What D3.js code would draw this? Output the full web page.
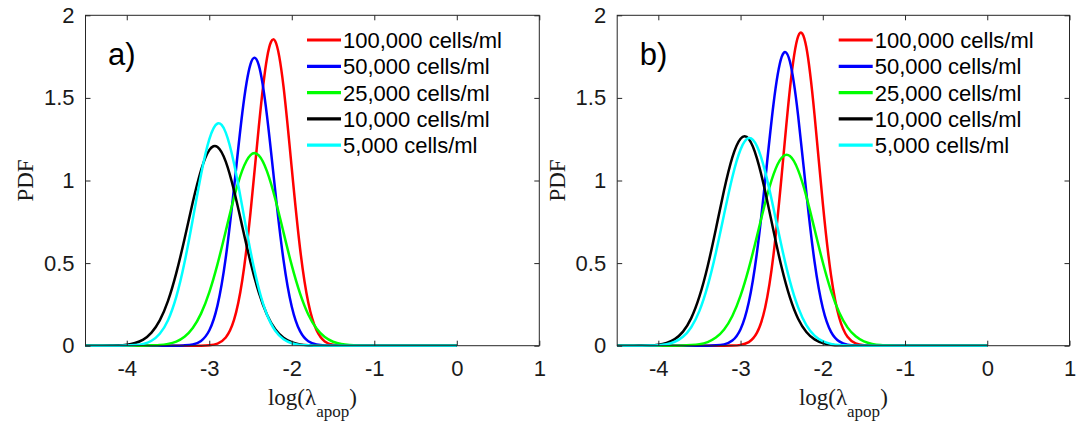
<!DOCTYPE html>
<html>
<head>
<meta charset="utf-8">
<script src="https://cdn.jsdelivr.net/npm/d3@7"></script>
<style>
  html, body { margin: 0; padding: 0; background: #fff; }
  svg { display: block; }
</style>
</head>
<body>
<svg id="chart" width="1088" height="427"></svg>
<script>
// Sample grid of log(lambda_apop), shared by every curve
const logLambda = [
  -4.5, -4.4, -4.3, -4.2, -4.1, -4.0, -3.9, -3.8, -3.7, -3.6,
  -3.5, -3.4, -3.3, -3.2, -3.1, -3.0, -2.9, -2.8, -2.7, -2.6,
  -2.5, -2.4, -2.3, -2.2, -2.1, -2.0, -1.9, -1.8, -1.7, -1.6,
  -1.5, -1.4, -1.3, -1.2, -1.1, -1.0, -0.9, -0.8, -0.7, -0.6,
  -0.5, -0.4, -0.3, -0.2, -0.1, 0.0
];

const seriesLabels = ["100,000 cells/ml", "50,000 cells/ml", "25,000 cells/ml", "10,000 cells/ml", "5,000 cells/ml"];
const seriesColors = ["#ff0000", "#0000ff", "#00ff00", "#000000", "#00ffff"];
const panelLabels = ["a)", "b)"];

// Panel a) PDF values
const pdfA_100k = [
  0, 0, 0, 0, 0, 0, 0, 0, 0, 0,
  0, 0, 0, 0, 0, 0.003, 0.013, 0.050, 0.156, 0.396,
  0.807, 1.323, 1.742, 1.843, 1.568, 1.073, 0.590, 0.261, 0.093, 0.026,
  0.006, 0.001, 0, 0, 0, 0, 0, 0, 0, 0,
  0, 0, 0, 0, 0, 0
];
const pdfA_50k = [
  0, 0, 0, 0, 0, 0, 0, 0, 0, 0,
  0, 0, 0.002, 0.007, 0.029, 0.092, 0.244, 0.533, 0.955, 1.407,
  1.704, 1.698, 1.390, 0.936, 0.518, 0.236, 0.088, 0.027, 0.007, 0.001,
  0, 0, 0, 0, 0, 0, 0, 0, 0, 0,
  0, 0, 0, 0, 0, 0
];
const pdfA_25k = [
  0, 0, 0, 0, 0, 0, 0, 0, 0.002, 0.004,
  0.011, 0.025, 0.054, 0.107, 0.194, 0.323, 0.494, 0.694, 0.896, 1.061,
  1.154, 1.152, 1.055, 0.888, 0.686, 0.486, 0.317, 0.189, 0.104, 0.052,
  0.024, 0.010, 0.004, 0.001, 0, 0, 0, 0, 0, 0,
  0, 0, 0, 0, 0, 0
];
const pdfA_10k = [
  0, 0, 0, 0.001, 0.002, 0.006, 0.016, 0.037, 0.079, 0.153,
  0.271, 0.439, 0.646, 0.868, 1.062, 1.184, 1.203, 1.114, 0.939, 0.722,
  0.506, 0.323, 0.188, 0.099, 0.048, 0.021, 0.008, 0.003, 0.001, 0,
  0, 0, 0, 0, 0, 0, 0, 0, 0, 0,
  0, 0, 0, 0, 0, 0
];
const pdfA_5k = [
  0, 0, 0, 0, 0, 0.001, 0.004, 0.011, 0.030, 0.072,
  0.154, 0.295, 0.503, 0.764, 1.035, 1.249, 1.345, 1.290, 1.103, 0.841,
  0.572, 0.346, 0.187, 0.090, 0.039, 0.015, 0.005, 0.002, 0, 0,
  0, 0, 0, 0, 0, 0, 0, 0, 0, 0,
  0, 0, 0, 0, 0, 0
];

// Panel b) PDF values
const pdfB_100k = [
  0, 0, 0, 0, 0, 0, 0, 0, 0, 0,
  0, 0, 0, 0, 0.001, 0.005, 0.022, 0.079, 0.233, 0.548,
  1.031, 1.553, 1.872, 1.806, 1.395, 0.863, 0.427, 0.169, 0.054, 0.014,
  0.003, 0, 0, 0, 0, 0, 0, 0, 0, 0,
  0, 0, 0, 0, 0, 0
];
const pdfB_50k = [
  0, 0, 0, 0, 0, 0, 0, 0, 0, 0,
  0, 0, 0.002, 0.008, 0.031, 0.100, 0.263, 0.566, 1.002, 1.460,
  1.748, 1.720, 1.393, 0.927, 0.507, 0.228, 0.084, 0.026, 0.006, 0.001,
  0, 0, 0, 0, 0, 0, 0, 0, 0, 0,
  0, 0, 0, 0, 0, 0
];
const pdfB_25k = [
  0, 0, 0, 0, 0, 0, 0, 0, 0.001, 0.004,
  0.009, 0.022, 0.049, 0.098, 0.180, 0.303, 0.468, 0.664, 0.866, 1.036,
  1.138, 1.148, 1.063, 0.904, 0.705, 0.505, 0.332, 0.201, 0.111, 0.057,
  0.026, 0.011, 0.004, 0.002, 0, 0, 0, 0, 0, 0,
  0, 0, 0, 0, 0, 0
];
const pdfB_10k = [
  0, 0, 0, 0.001, 0.002, 0.006, 0.017, 0.040, 0.085, 0.167,
  0.298, 0.481, 0.707, 0.942, 1.140, 1.253, 1.251, 1.133, 0.933, 0.697,
  0.473, 0.292, 0.163, 0.083, 0.038, 0.016, 0.006, 0.002, 0.001, 0,
  0, 0, 0, 0, 0, 0, 0, 0, 0, 0,
  0, 0, 0, 0, 0, 0
];
const pdfB_5k = [
  0, 0, 0, 0, 0.001, 0.003, 0.009, 0.024, 0.054, 0.112,
  0.211, 0.362, 0.563, 0.795, 1.020, 1.188, 1.257, 1.207, 1.052, 0.833,
  0.599, 0.391, 0.232, 0.125, 0.061, 0.027, 0.011, 0.004, 0.001, 0,
  0, 0, 0, 0, 0, 0, 0, 0, 0, 0,
  0, 0, 0, 0, 0, 0
];

const xDomain = [-4.5, 1];
const yDomain = [0, 2];
const xTicks = [-4, -3, -2, -1, 0, 1];
const xTickLabels = ["-4", "-3", "-2", "-1", "0", "1"];
const yTicks = [0, 0.5, 1, 1.5, 2];
const yTickLabels = ["0", "0.5", "1", "1.5", "2"];

// Layout
const plotTop = 15.3, plotBottom = 345.7;
const panelSpecs = [
  { left: 85.5, right: 539.3, series: [pdfA_100k, pdfA_50k, pdfA_25k, pdfA_10k, pdfA_5k] },
  { left: 617.2, right: 1069.5, series: [pdfB_100k, pdfB_50k, pdfB_25k, pdfB_10k, pdfB_5k] }
];

const SANS = "'Liberation Sans', Arial, Helvetica, sans-serif";
const SERIF = "'Liberation Serif', 'Times New Roman', Times, serif";
const AXIS_COLOR = "#262626";

const svg = d3.select("#chart");

panelSpecs.forEach((spec, p) => {
  const x = d3.scaleLinear().domain(xDomain).range([spec.left, spec.right]);
  const y = d3.scaleLinear().domain(yDomain).range([plotBottom, plotTop]);
  const g = svg.append("g");

  // Curves (drawn in legend order, so 5,000 cells/ml ends on top)
  const line = d3.line()
    .x((d, i) => x(logLambda[i]))
    .y(d => y(d))
    .curve(d3.curveNatural);

  spec.series.forEach((vals, k) => {
    g.append("path")
      .datum(vals)
      .attr("d", line)
      .attr("fill", "none")
      .attr("stroke", seriesColors[k])
      .attr("stroke-width", 2.5)
      .attr("stroke-linejoin", "round");
  });

  // Axes: ticks point inward on all four sides
  const styleAxis = sel => {
    sel.selectAll(".domain").remove();
    sel.selectAll(".tick line").attr("stroke", AXIS_COLOR).attr("stroke-width", 1);
    sel.selectAll(".tick text")
      .attr("fill", "#1a1a1a")
      .style("font-family", SANS)
      .style("font-size", "22px");
  };

  g.append("g")
    .attr("transform", `translate(0,${plotBottom})`)
    .call(d3.axisBottom(x).tickValues(xTicks).tickFormat((d, i) => xTickLabels[i]).tickSizeInner(-5).tickSizeOuter(0).tickPadding(15))
    .call(styleAxis);
  g.append("g")
    .attr("transform", `translate(0,${plotTop})`)
    .call(d3.axisTop(x).tickValues(xTicks).tickFormat("").tickSizeInner(-5).tickSizeOuter(0))
    .call(styleAxis);
  g.append("g")
    .attr("transform", `translate(${spec.left},0)`)
    .call(d3.axisLeft(y).tickValues(yTicks).tickFormat((d, i) => yTickLabels[i]).tickSizeInner(-5).tickSizeOuter(0).tickPadding(11))
    .call(styleAxis);
  g.append("g")
    .attr("transform", `translate(${spec.right},0)`)
    .call(d3.axisRight(y).tickValues(yTicks).tickFormat("").tickSizeInner(-5).tickSizeOuter(0))
    .call(styleAxis);

  // Axes box
  g.append("rect")
    .attr("x", spec.left).attr("y", plotTop)
    .attr("width", spec.right - spec.left).attr("height", plotBottom - plotTop)
    .attr("fill", "none").attr("stroke", AXIS_COLOR).attr("stroke-width", 1);

  // Panel letter
  g.append("text")
    .attr("x", spec.left + 22.5).attr("y", 65)
    .style("font-family", SANS).style("font-size", "31px")
    .attr("fill", "#000")
    .text(panelLabels[p]);

  // Legend
  const legX = spec.left + 221.5;
  seriesLabels.forEach((lab, k) => {
    const ly = 40 + k * 26.3;
    g.append("line")
      .attr("x1", legX).attr("x2", legX + 34)
      .attr("y1", ly).attr("y2", ly)
      .attr("stroke", seriesColors[k]).attr("stroke-width", 3.2);
    g.append("text")
      .attr("x", legX + 36).attr("y", ly).attr("dy", "0.36em")
      .style("font-family", SANS).style("font-size", "22px")
      .attr("fill", "#000")
      .text(lab);
  });

  // Axis titles
  const xt = g.append("text")
    .attr("x", (spec.left + spec.right) / 2).attr("y", 405)
    .attr("text-anchor", "middle")
    .style("font-family", SERIF).style("font-size", "23px")
    .attr("fill", "#1a1a1a");
  xt.append("tspan").text("log(λ");
  xt.append("tspan").attr("dy", 12).style("font-size", "17px").text("apop");
  xt.append("tspan").attr("dy", -12).text(")");

  g.append("text")
    .attr("transform", `translate(${spec.left - 52.5},${(plotTop + plotBottom) / 2}) rotate(-90)`)
    .attr("text-anchor", "middle")
    .style("font-family", SERIF).style("font-size", "23px")
    .attr("fill", "#1a1a1a")
    .text("PDF");
});
</script>
</body>
</html>
